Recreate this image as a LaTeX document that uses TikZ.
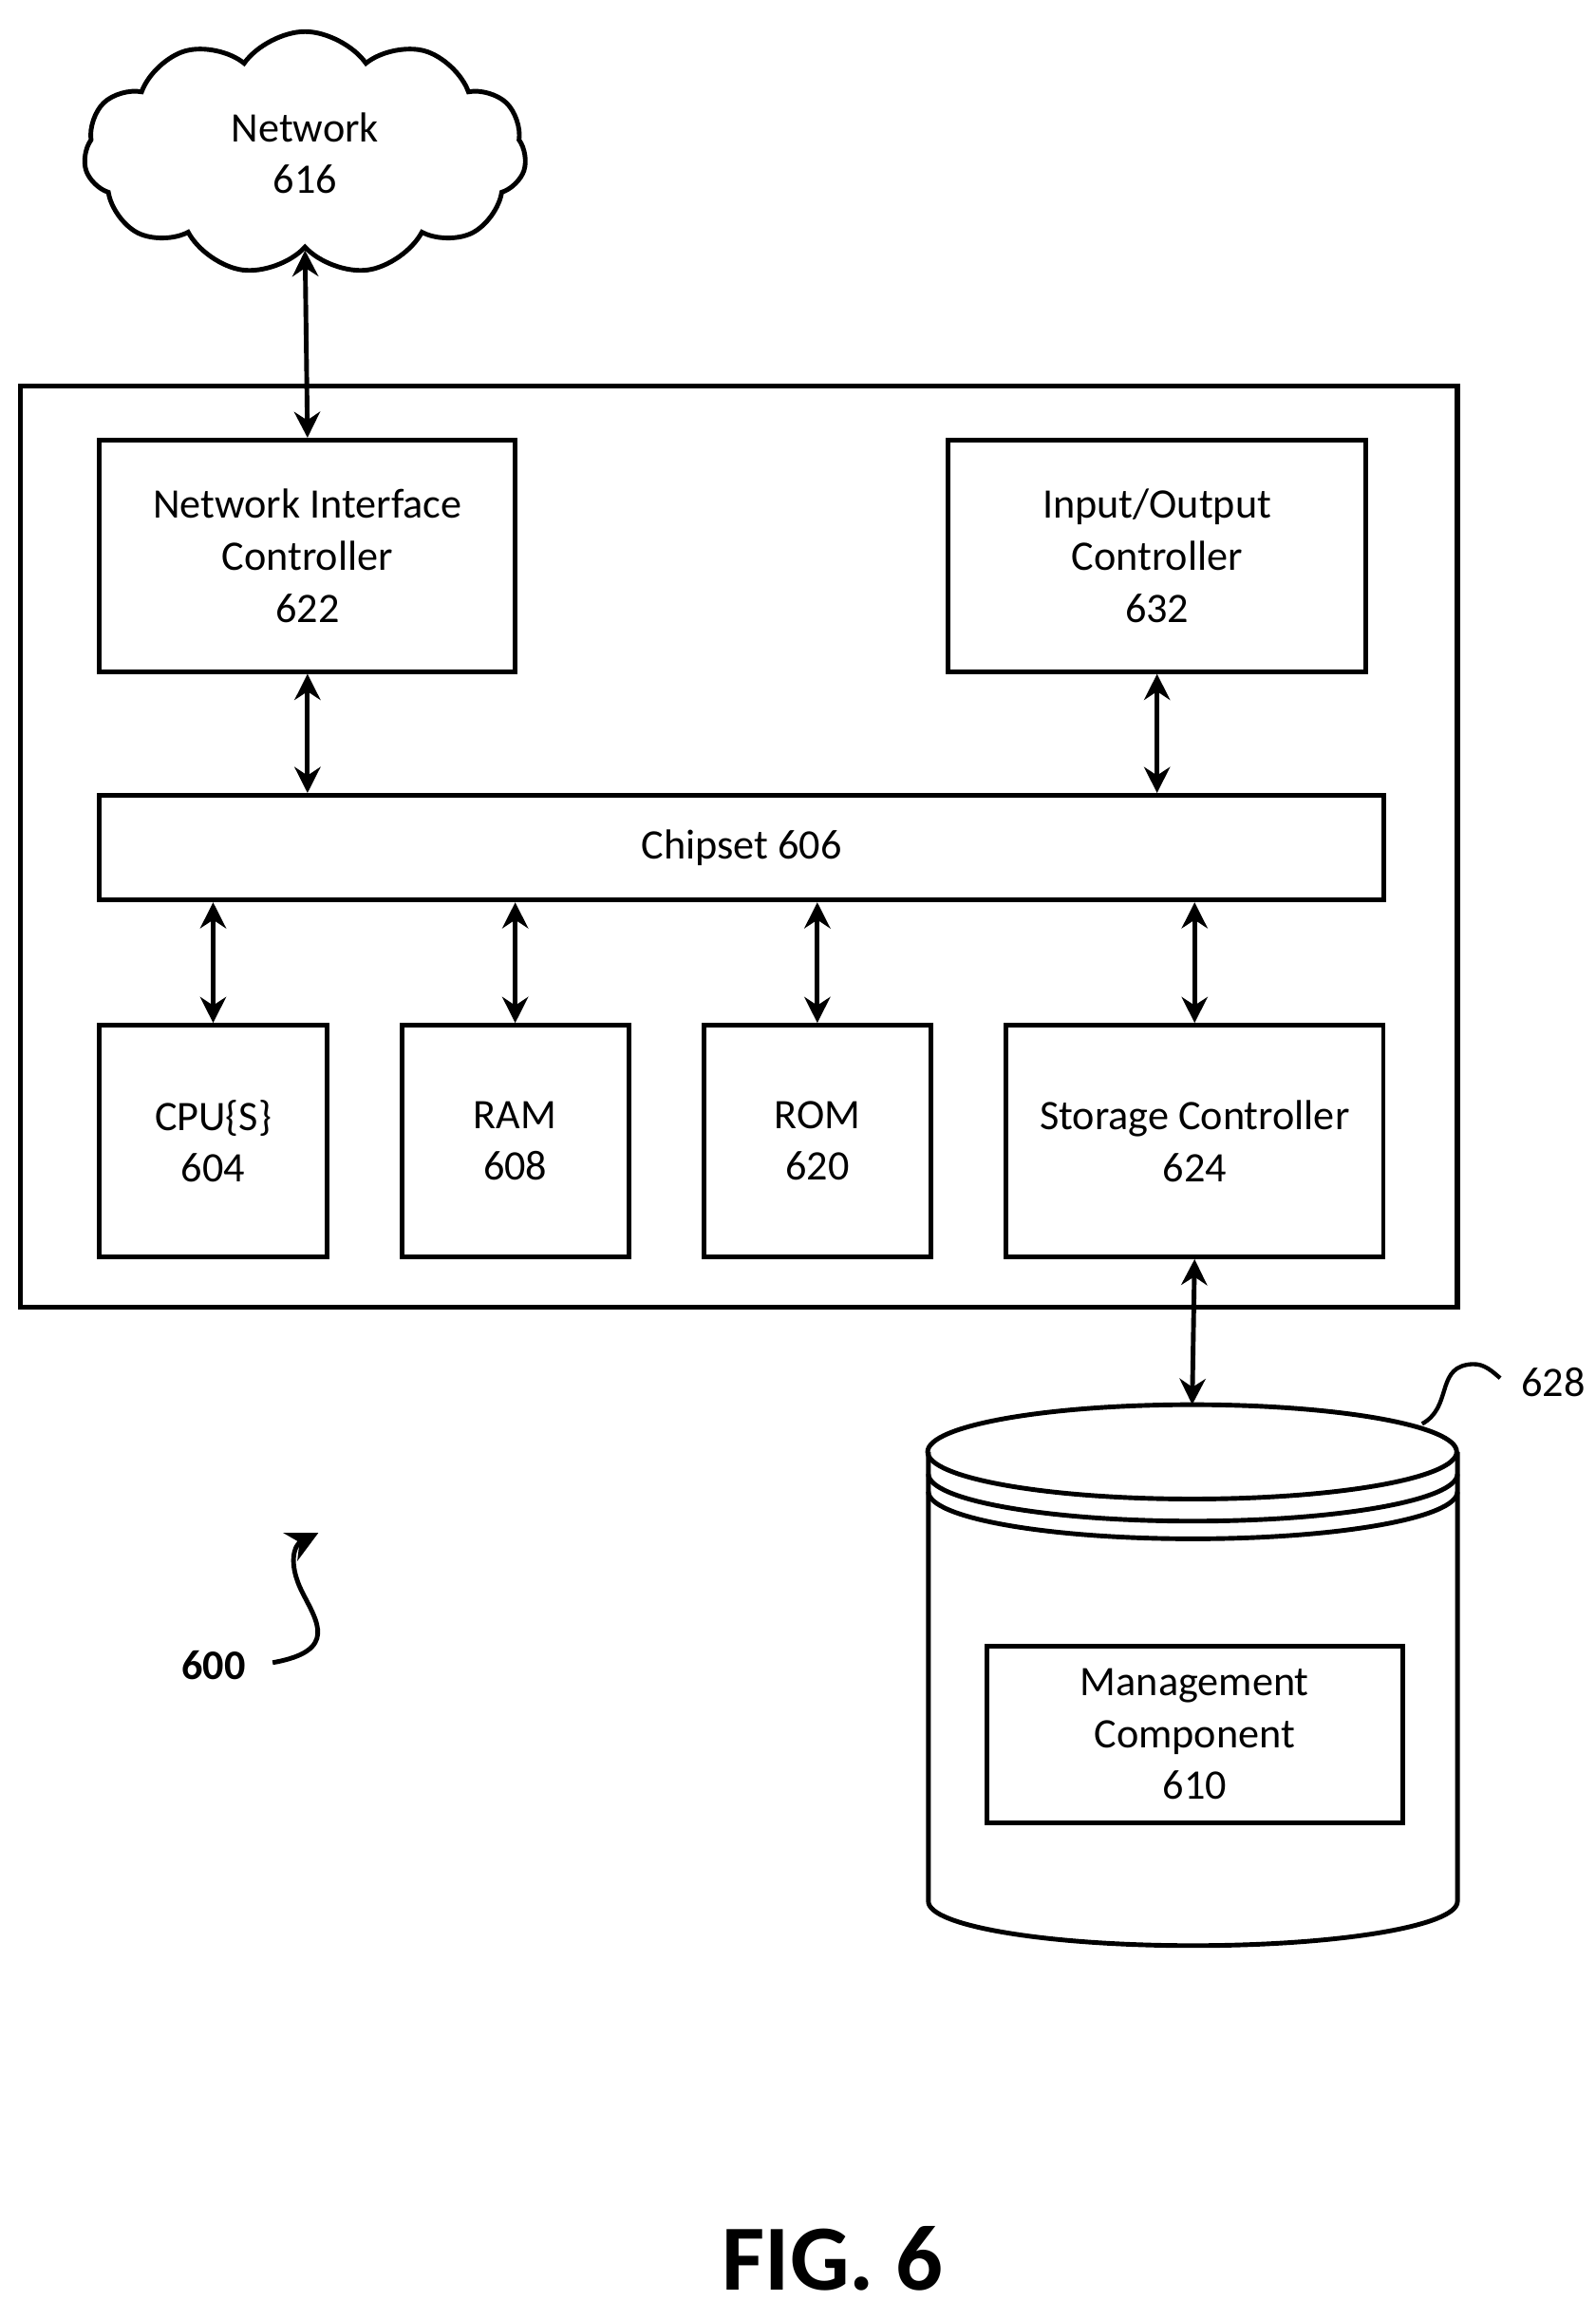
\documentclass[tikz,border=0pt]{standalone}
\usepackage{fontspec}
\setmainfont{Carlito}
\usetikzlibrary{shapes.symbols,arrows.meta}
\begin{document}
\begin{tikzpicture}[x=0.01cm,y=-0.01cm,
  box/.style={draw,line width=0.9pt,align=center,font=\fontsize{8.1}{10}\selectfont},
  lbl/.style={align=center,font=\fontsize{8.1}{10}\selectfont},
  arr/.style={line width=0.9pt,{Stealth[length=5pt,width=5pt]}-{Stealth[length=5pt,width=5pt]}}]
\useasboundingbox (0,0) rectangle (1083,1574);
\node[cloud,draw,line width=0.9pt,cloud puffs=11,cloud puff arc=110,aspect=1.8,minimum width=3.0cm,minimum height=1.65cm,lbl] (net) at (207,104) {Network\\616};
\draw[line width=1pt] (14,262) rectangle (989,887);
\node[box,minimum width=2.82cm,minimum height=1.57cm,anchor=north west] (nic) at (66,297) {Network Interface\\Controller\\622};
\node[box,minimum width=2.83cm,minimum height=1.57cm,anchor=north west] (io) at (642,297) {Input/Output\\Controller\\632};
\node[box,minimum width=8.71cm,minimum height=0.71cm,anchor=north west] (chip) at (66,538) {Chipset 606};
\node[box,minimum width=1.54cm,minimum height=1.57cm,anchor=north west] (cpu) at (66,694) {CPU\{S\}\\604};
\node[box,minimum width=1.54cm,minimum height=1.57cm,anchor=north west] (ram) at (271,694) {RAM\\608};
\node[box,minimum width=1.54cm,minimum height=1.57cm,anchor=north west] (rom) at (476,694) {ROM\\620};
\node[box,minimum width=2.56cm,minimum height=1.57cm,anchor=north west] (sc) at (681,694) {Storage Controller\\624};
\draw[arr] (net.south) -- (nic.north);
\draw[arr] (nic.south) -- (chip.north -| nic.south);
\draw[arr] (io.south) -- (chip.north -| io.south);
\draw[arr] (chip.south -| cpu.north) -- (cpu.north);
\draw[arr] (chip.south -| ram.north) -- (ram.north);
\draw[arr] (chip.south -| rom.north) -- (rom.north);
\draw[arr] (chip.south -| sc.north) -- (sc.north);
% cylinder
\coordinate (ctop) at (809,953);
\draw[line width=0.9pt] (809,985) ellipse [x radius=179.5, y radius=-32];
\draw[line width=0.9pt] (630,985) -- (630,1290) arc[start angle=180,end angle=360,x radius=179.5,y radius=-30] -- (989,985);
\draw[line width=0.9pt] (630,1000) arc[start angle=180,end angle=360,x radius=179.5,y radius=-32];
\draw[line width=0.9pt] (630,1012) arc[start angle=180,end angle=360,x radius=179.5,y radius=-32];
\draw[arr] (sc.south) -- (ctop);
\node[box,minimum width=2.82cm,minimum height=1.2cm,anchor=north west] (mc) at (668,1115) {Management\\Component\\610};
\node[lbl,anchor=west] (l628) at (1020,938) {628};
\draw[line width=0.8pt] (965,966) .. controls (985,955) and (975,930) .. (995,926) .. controls (1005,924) and (1010,928) .. (1018,935);
\node[font=\fontsize{8.1}{10}\selectfont\bfseries] (l600) at (145,1130) {600};
\coordinate (s600) at (185,1128);
\draw[line width=0.9pt,-{Stealth[length=6pt,width=6pt]}] (s600) .. controls (230,1120) and (215,1100) .. (205,1080) .. controls (195,1060) and (200,1048) .. (216,1040);
\node[font=\fontsize{18}{22}\selectfont\bfseries] (fig) at (565,1532) {FIG. 6};
\end{tikzpicture}
\end{document}
